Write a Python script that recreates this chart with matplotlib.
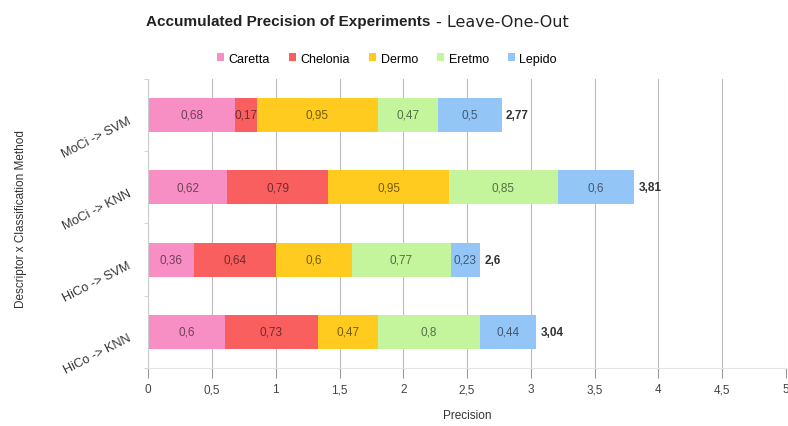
import numpy as np
import matplotlib.pyplot as plt
import matplotlib.colors as mcolors

plt.rcParams['font.family'] = ['Liberation Sans', 'DejaVu Sans']

categories = ["MoCi -> SVM", "MoCi -> KNN", "HiCo -> SVM", "HiCo -> KNN"]
species = ["Caretta", "Chelonia", "Dermo", "Eretmo", "Lepido"]
caretta = [0.68, 0.62, 0.36, 0.6]
chelonia = [0.17, 0.79, 0.64, 0.73]
dermo = [0.95, 0.95, 0.6, 0.47]
eretmo = [0.47, 0.85, 0.77, 0.8]
lepido = [0.5, 0.6, 0.23, 0.44]
totals = [2.77, 3.81, 2.6, 3.04]
xticks = [0, 0.5, 1, 1.5, 2, 2.5, 3, 3.5, 4, 4.5, 5]

colors = ["#f78fc4", "#f95f5f", "#ffcb1f", "#c4f59c", "#93c5f7"]


def fmt(v):
    return ("%g" % v).replace(".", ",")


def darker(c, f=0.45):
    r, g, b = mcolors.to_rgb(c)
    return (r * f, g * f, b * f)


fig = plt.figure(figsize=(7.88, 4.27), dpi=100)
ax = fig.add_axes([0.188, 0.136, 0.8095, 0.677])

series = [caretta, chelonia, dermo, eretmo, lepido]
ypos = np.arange(len(categories))
left = np.zeros(len(categories))
for name, vals, col in zip(species, series, colors):
    vals = np.array(vals)
    ax.barh(ypos, vals, left=left, height=0.47, color=col, label=name, zorder=2)
    for y, l, v in zip(ypos, left, vals):
        ax.text(l + v / 2, y, fmt(v), ha="center", va="center",
                fontsize=8.5, color=darker(col), zorder=3)
    left = left + vals

for y, t in zip(ypos, totals):
    ax.text(t + 0.035, y, fmt(t), ha="left", va="center",
            fontsize=8.5, fontweight="bold", color="#333333")

ax.set_xlim(0, 5)
ax.set_ylim(len(categories) - 0.5, -0.5)
ax.set_xticks(xticks)
ax.set_xticklabels([fmt(x) for x in xticks], fontsize=8.5, color="#444444")
ax.set_yticks(ypos)
ax.set_yticklabels(categories, rotation=27, fontsize=9.2, color="#333333",
                   ha="right", va="top", rotation_mode="anchor")
ax.set_yticks(np.arange(-0.5, len(categories), 1.0), minor=True)
ax.tick_params(axis="y", which="major", length=0, pad=15)
ax.tick_params(axis="y", which="minor", length=3, color="#cccccc")
ax.tick_params(axis="x", length=7, color="#999999", pad=4)
ax.grid(axis="x", color="#bbbbbb", linewidth=0.8, zorder=0)
ax.set_axisbelow(True)
for side in ["top", "right"]:
    ax.spines[side].set_visible(False)
ax.spines["left"].set_color("#cccccc")
ax.spines["bottom"].set_color("#e4e4e4")

ax.set_xlabel("Precision", fontsize=8.5, color="#333333", labelpad=10)
ax.set_ylabel("Descriptor x Classification Method", fontsize=8.5,
              color="#333333")
ax.yaxis.set_label_coords(-0.19, 0.52)

fig.text(0.546, 0.948, "Accumulated Precision of Experiments", ha="right",
         va="center", fontsize=11, fontweight="bold", color="#222222")
fig.text(0.553, 0.948, "- Leave-One-Out", ha="left", va="center",
         fontsize=11.5, color="#222222", family="DejaVu Sans")

ax.legend(loc="center", bbox_to_anchor=(0.491, 0.86), bbox_transform=fig.transFigure,
          ncol=5, frameon=False, fontsize=9, handlelength=0.6, handleheight=0.6,
          handletextpad=0.35, columnspacing=1.5)

fig.savefig("out.png", dpi=100)
